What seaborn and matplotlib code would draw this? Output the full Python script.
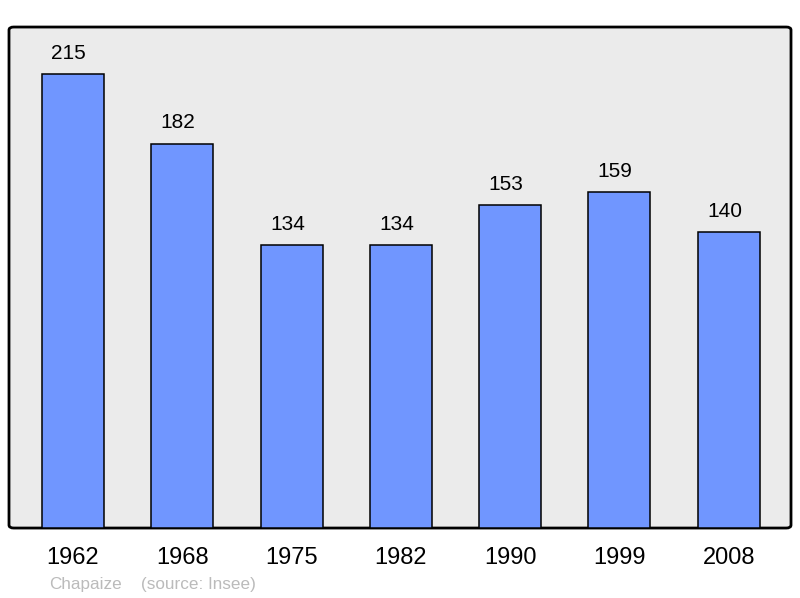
import matplotlib
matplotlib.use("Agg")
import matplotlib.pyplot as plt
import seaborn as sns
import pandas as pd
from matplotlib.patches import FancyBboxPatch

# Données : population par recensement
annees = ["1962", "1968", "1975", "1982", "1990", "1999", "2008"]
population = [215, 182, 134, 134, 153, 159, 140]
commune = "Chapaize"
source = "(source: Insee)"

df = pd.DataFrame({"annee": annees, "pop": population})

sns.set_theme(style="white")
plt.rcParams["font.family"] = ["Liberation Sans", "DejaVu Sans"]

fig = plt.figure(figsize=(8, 5.98), dpi=100)
ax = fig.add_axes([0.01125, 0.117, 0.9775, 0.8378])

sns.barplot(data=df, x="annee", y="pop", color="#7096ff", saturation=1,
            width=0.567, edgecolor="black", linewidth=1.1, ax=ax, zorder=3)

ax.set_xlim(-0.586, 6.57)
ax.set_ylim(0, 237.3)
ax.set_facecolor("none")
for s in ax.spines.values():
    s.set_visible(False)

# fond gris arrondi
fond = FancyBboxPatch((0, 0), 1, 1, boxstyle="round,pad=0,rounding_size=0.006",
                      transform=ax.transAxes, facecolor="#ebebeb",
                      edgecolor="black", linewidth=2, zorder=0, clip_on=False)
ax.add_patch(fond)

# étiquettes de valeur (légèrement décalées à gauche comme l'original)
for i, v in enumerate(population):
    ax.annotate(str(v), (i, v), xytext=(-3, 15), textcoords="offset points",
                ha="center", va="center", fontsize=15, color="black")

ax.set_xlabel("")
ax.set_ylabel("")
ax.set_yticks([])
ax.tick_params(axis="x", length=0, pad=13.5, labelsize=17, colors="black")

fig.text(49 / 800, 1 - 584 / 598, commune, ha="left", va="center",
         fontsize=12.3, color="#bbbbbb")
fig.text(141 / 800, 1 - 584 / 598, source, ha="left", va="center",
         fontsize=12.3, color="#bbbbbb")

fig.savefig("out.png", dpi=100)
